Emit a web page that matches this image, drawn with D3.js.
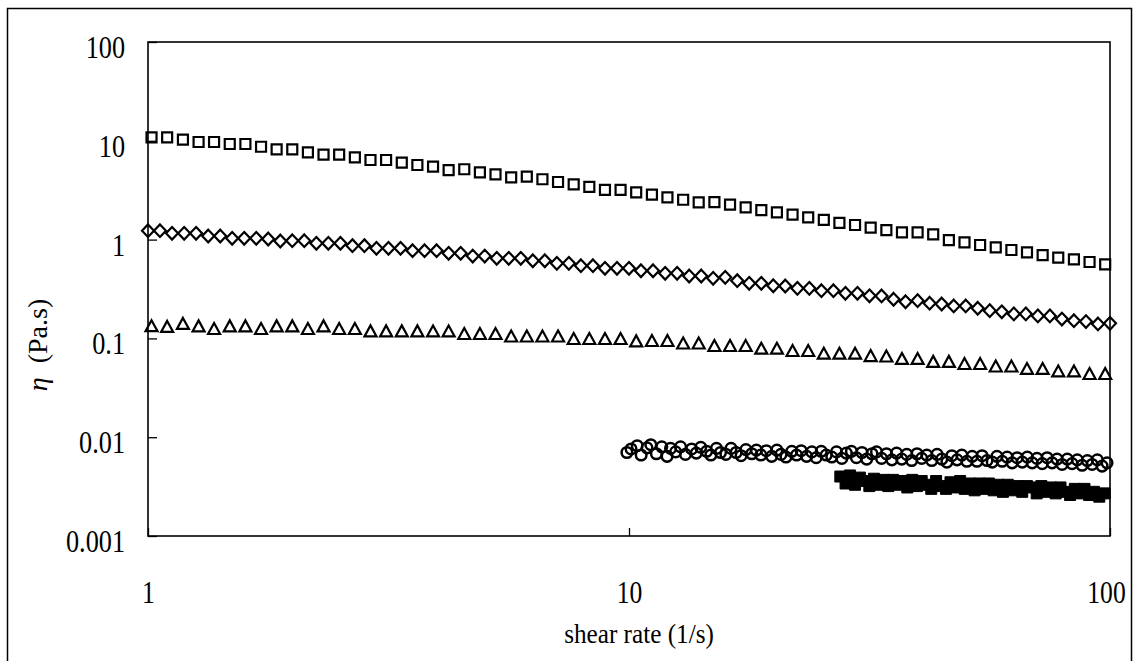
<!DOCTYPE html>
<html>
<head>
<meta charset="utf-8">
<script src="https://cdn.jsdelivr.net/npm/d3@7"></script>
<style>
  body { margin: 0; background: #fff; }
  svg { display: block; }
  text { font-family: "Liberation Serif", "Times New Roman", serif; fill: #000; }
</style>
</head>
<body>
<svg id="chart" width="1136" height="661"></svg>
<script>
// Shear rates (1/s) of the sweeps
const shearRate = [1.017, 1.096, 1.182, 1.274, 1.372, 1.479, 1.594, 1.718, 1.851, 1.995,
  2.150, 2.317, 2.497, 2.692, 2.901, 3.126, 3.370, 3.631, 3.914, 4.217,
  4.545, 4.898, 5.278, 5.689, 6.131, 6.607, 7.120, 7.674, 8.270, 8.913,
  9.605, 10.35, 11.16, 12.02, 12.96, 13.96, 15.05, 16.22, 17.48, 18.84,
  20.30, 21.88, 23.58, 25.41, 27.38, 29.51, 31.80, 34.28, 36.94, 39.81,
  42.90, 46.24, 49.83, 53.70, 57.87, 62.37, 67.21, 72.44, 78.06, 84.14,
  90.68, 97.72];

const shearRateDiamond = [1.000, 1.059, 1.122, 1.189, 1.259, 1.334, 1.413, 1.496, 1.585, 1.679,
  1.778, 1.884, 1.995, 2.113, 2.239, 2.371, 2.512, 2.661, 2.818, 2.985,
  3.162, 3.350, 3.548, 3.758, 3.981, 4.217, 4.467, 4.732, 5.012, 5.309,
  5.623, 5.957, 6.310, 6.683, 7.079, 7.499, 7.943, 8.414, 8.913, 9.441,
  10.00, 10.59, 11.22, 11.89, 12.59, 13.34, 14.13, 14.96, 15.85, 16.79,
  17.78, 18.84, 19.95, 21.13, 22.39, 23.71, 25.12, 26.61, 28.18, 29.85,
  31.62, 33.50, 35.48, 37.58, 39.81, 42.17, 44.67, 47.32, 50.12, 53.09,
  56.23, 59.57, 63.10, 66.83, 70.79, 74.99, 79.43, 84.14, 89.13, 94.41,
  100.0];

const shearRateCircle = [9.90, 10.1, 10.4, 10.6, 10.9, 11.1, 11.4, 11.7, 12.0, 12.2,
  12.5, 12.8, 13.1, 13.5, 13.8, 14.1, 14.5, 14.8, 15.2, 15.5,
  15.9, 16.3, 16.7, 17.1, 17.5, 18.0, 18.4, 18.8, 19.3, 19.8,
  20.3, 20.7, 21.2, 21.8, 22.3, 22.8, 23.4, 24.0, 24.5, 25.1,
  25.7, 26.4, 27.0, 27.7, 28.3, 29.0, 29.7, 30.5, 31.2, 32.0,
  32.7, 33.5, 34.3, 35.2, 36.0, 36.9, 37.8, 38.7, 39.7, 40.6,
  41.6, 42.6, 43.7, 44.7, 45.8, 46.9, 48.1, 49.2, 50.4, 51.7,
  52.9, 54.2, 55.5, 56.9, 58.2, 59.7, 61.1, 62.6, 64.1, 65.7,
  67.3, 68.9, 70.5, 72.3, 74.0, 75.8, 77.6, 79.5, 81.5, 83.4,
  85.5, 87.5, 89.7, 91.8, 94.1, 96.3, 98.6];

const shearRateFilled = [27.5, 28.2, 28.8, 29.5, 30.2, 30.9, 31.6, 32.3, 33.1, 33.8,
  34.6, 35.4, 36.2, 37.1, 37.9, 38.8, 39.7, 40.6, 41.6, 42.5,
  43.5, 44.5, 45.6, 46.6, 47.7, 48.8, 49.9, 51.1, 52.3, 53.5,
  54.7, 56.0, 57.3, 58.6, 59.9, 61.3, 62.8, 64.2, 65.7, 67.2,
  68.8, 70.4, 72.0, 73.7, 75.4, 77.1, 78.9, 80.7, 82.6, 84.5,
  86.5, 88.5, 90.5, 92.6, 95.0, 97.5];

// Viscosity η (Pa.s)
const etaSquare = [10.85, 10.85, 10.26, 9.72, 9.72, 9.28, 9.28, 8.71, 8.20, 8.20,
  7.65, 7.23, 7.23, 6.81, 6.39, 6.39, 6.00, 5.69, 5.47, 5.06,
  5.15, 4.80, 4.58, 4.27, 4.33, 4.08, 3.83, 3.63, 3.41, 3.18,
  3.18, 3.01, 2.85, 2.68, 2.53, 2.38, 2.40, 2.26, 2.12, 1.99,
  1.89, 1.79, 1.68, 1.58, 1.48, 1.405, 1.32, 1.25, 1.185, 1.185,
  1.13, 0.99, 0.939, 0.882, 0.836, 0.785, 0.744, 0.698, 0.656, 0.632,
  0.593, 0.562];

const etaDiamond = [1.23, 1.23, 1.158, 1.158, 1.158, 1.088, 1.088, 1.031, 1.031, 1.031,
  1.014, 0.968, 0.975, 0.975, 0.917, 0.917, 0.917, 0.868, 0.868, 0.817,
  0.817, 0.817, 0.772, 0.772, 0.772, 0.727, 0.727, 0.682, 0.682, 0.647,
  0.647, 0.647, 0.611, 0.611, 0.575, 0.575, 0.544, 0.544, 0.512, 0.512,
  0.512, 0.484, 0.484, 0.456, 0.456, 0.428, 0.428, 0.406, 0.415, 0.384,
  0.361, 0.361, 0.341, 0.339, 0.321, 0.321, 0.304, 0.304, 0.286, 0.286,
  0.270, 0.269, 0.249, 0.235, 0.241, 0.227, 0.223, 0.213, 0.213, 0.202,
  0.191, 0.186, 0.177, 0.177, 0.169, 0.169, 0.157, 0.151, 0.148, 0.140,
  0.142];

const etaTriangle = [0.1335, 0.1313, 0.1408, 0.1329, 0.1251, 0.1329, 0.1329, 0.1251, 0.1329, 0.1329,
  0.1251, 0.1329, 0.1251, 0.1251, 0.1183, 0.1183, 0.1183, 0.1183, 0.1181, 0.1181,
  0.1113, 0.1113, 0.1113, 0.1050, 0.1050, 0.1050, 0.1050, 0.0991, 0.0991, 0.0991,
  0.0991, 0.0937, 0.0946, 0.0946, 0.0892, 0.0892, 0.0842, 0.0842, 0.0842, 0.0790,
  0.0790, 0.0749, 0.0749, 0.0703, 0.0703, 0.0703, 0.0666, 0.0659, 0.0622, 0.0622,
  0.0581, 0.0581, 0.0553, 0.0553, 0.0522, 0.0522, 0.0493, 0.0493, 0.0465, 0.0465,
  0.0438, 0.0438];

const etaCircle = [0.0070, 0.0076, 0.0082, 0.0066, 0.0078, 0.0084, 0.0068, 0.0080, 0.0064, 0.0077,
  0.0071, 0.0080, 0.0067, 0.0076, 0.0069, 0.0079, 0.0072, 0.0066, 0.0077, 0.0070,
  0.0067, 0.0077, 0.0070, 0.0065, 0.0075, 0.0068, 0.0074, 0.0066, 0.0073, 0.0064,
  0.0074, 0.0067, 0.0063, 0.0072, 0.0066, 0.0073, 0.0064, 0.0071, 0.0062, 0.0072,
  0.0066, 0.0063, 0.0071, 0.0061, 0.0069, 0.0072, 0.0062, 0.0070, 0.0060, 0.0068,
  0.0071, 0.0061, 0.0068, 0.0059, 0.0069, 0.0060, 0.0067, 0.0058, 0.0068, 0.0061,
  0.0066, 0.0058, 0.0067, 0.0060, 0.0056, 0.0065, 0.0059, 0.0066, 0.0057, 0.0064,
  0.0057, 0.0065, 0.0058, 0.0056, 0.0064, 0.0057, 0.0063, 0.0055, 0.0062, 0.0056,
  0.0063, 0.0055, 0.0061, 0.0054, 0.0062, 0.0055, 0.0060, 0.0053, 0.0060, 0.0054,
  0.0059, 0.0052, 0.0058, 0.0053, 0.0059, 0.0051, 0.0055];

const etaFilled = [0.0040, 0.0034, 0.0041, 0.0033, 0.0039, 0.0036, 0.0032, 0.0038, 0.0033, 0.0037,
  0.0032, 0.0037, 0.0033, 0.0036, 0.0031, 0.0037, 0.0032, 0.0036, 0.0033, 0.0030,
  0.0036, 0.0032, 0.0030, 0.0035, 0.0031, 0.0036, 0.0030, 0.0034, 0.0029, 0.0034,
  0.0030, 0.0034, 0.0029, 0.0033, 0.0028, 0.0033, 0.0029, 0.0032, 0.0028, 0.0032,
  0.0031, 0.0027, 0.0032, 0.0028, 0.0031, 0.0027, 0.0031, 0.0028, 0.0026, 0.0030,
  0.0027, 0.0030, 0.0026, 0.0028, 0.0025, 0.0027];

// Axis ticks
const xTickValues = [1, 10, 100];
const xTickLabels = ["1", "10", "100"];
const yTickValues = [0.001, 0.01, 0.1, 1, 10, 100];
const yTickLabels = ["0.001", "0.01", "0.1", "1", "10", "100"];

const svg = d3.select("#chart");
const plot = { left: 148, right: 1110, top: 42, bottom: 536 };

const x = d3.scaleLog().domain([1, 100]).range([plot.left, plot.right]);
const y = d3.scaleLog().domain([0.001, 100]).range([plot.bottom, plot.top]);

// Chart border
svg.append("rect")
  .attr("x", 7.5).attr("y", 8.5)
  .attr("width", 1124).attr("height", 700)
  .attr("fill", "none").attr("stroke", "#000").attr("stroke-width", 1.5);

// Plot frame
svg.append("rect")
  .attr("x", plot.left).attr("y", plot.top)
  .attr("width", plot.right - plot.left).attr("height", plot.bottom - plot.top)
  .attr("fill", "none").attr("stroke", "#000").attr("stroke-width", 1.6);

// Condense serif glyphs horizontally
function condense(sel, k) {
  sel.each(function () {
    const w = this.getComputedTextLength();
    d3.select(this).attr("textLength", w * k).attr("lengthAdjust", "spacingAndGlyphs");
  });
}

// Y axis
const yAxis = svg.append("g")
  .attr("transform", `translate(${plot.left},0)`)
  .call(d3.axisLeft(y)
    .tickValues(yTickValues)
    .tickFormat((d, i) => yTickLabels[i])
    .tickSizeInner(-9).tickSizeOuter(0).tickPadding(23));
yAxis.select(".domain").remove();
yAxis.selectAll(".tick line").attr("stroke", "#000").attr("stroke-width", 1.3);
yAxis.selectAll(".tick text")
  .attr("font-family", "Liberation Serif, serif")
  .attr("font-size", 32).attr("y", 5).attr("dy", "0.33em");
condense(yAxis.selectAll(".tick text"), 0.82);

// X axis
const xAxis = svg.append("g")
  .attr("transform", `translate(0,${plot.bottom})`)
  .call(d3.axisBottom(x)
    .tickValues(xTickValues)
    .tickFormat((d, i) => xTickLabels[i])
    .tickSizeInner(-8).tickSizeOuter(0).tickPadding(0));
xAxis.select(".domain").remove();
xAxis.selectAll(".tick line").attr("stroke", "#000").attr("stroke-width", 1.3);
xAxis.selectAll(".tick text")
  .attr("font-family", "Liberation Serif, serif")
  .attr("font-size", 32).attr("y", 56).attr("dy", "0.33em")
  .attr("x", (d, i) => (i === xTickValues.length - 1 ? -4 : 0));
condense(xAxis.selectAll(".tick text"), 0.8);

// Axis titles
const xTitle = svg.append("text")
  .attr("x", 639).attr("y", 643)
  .attr("text-anchor", "middle")
  .attr("font-size", 28)
  .text("shear rate (1/s)");
condense(xTitle, 0.9);

const yTitle = svg.append("text")
  .attr("transform", "translate(47,345) rotate(-90)")
  .attr("text-anchor", "middle")
  .attr("font-size", 28);
yTitle.append("tspan").attr("font-style", "italic").text("η");
yTitle.append("tspan").text("\u00a0\u00a0(Pa.s)");

// Marker shapes
const shapes = {
  square: "M-5,-5H5V5H-5Z",
  diamond: "M0,-6.3L6,0L0,6.3L-6,0Z",
  triangle: "M0,-5.8L6,5.2H-6Z",
  filled: "M-5.5,-5.5H5.5V5.5H-5.5Z"
};

function drawSeries(xs, ys, shape, fill, sw) {
  const pts = xs.map((v, i) => ({ x: v, y: ys[i] }));
  svg.append("g").selectAll("path").data(pts).join("path")
    .attr("d", shapes[shape])
    .attr("transform", d => `translate(${x(d.x)},${y(d.y)})`)
    .attr("fill", fill).attr("stroke", "#000").attr("stroke-width", sw)
    .attr("stroke-linejoin", "miter");
}

drawSeries(shearRate, etaSquare, "square", "none", 2.2);
drawSeries(shearRateDiamond, etaDiamond, "diamond", "none", 2.2);
drawSeries(shearRate, etaTriangle, "triangle", "none", 2.2);

// Open circles
svg.append("g").selectAll("circle")
  .data(shearRateCircle.map((v, i) => ({ x: v, y: etaCircle[i] })))
  .join("circle")
  .attr("cx", d => x(d.x)).attr("cy", d => y(d.y)).attr("r", 5.3)
  .attr("fill", "none").attr("stroke", "#000").attr("stroke-width", 2.5);

drawSeries(shearRateFilled, etaFilled, "filled", "#000", 1);
</script>
</body>
</html>
